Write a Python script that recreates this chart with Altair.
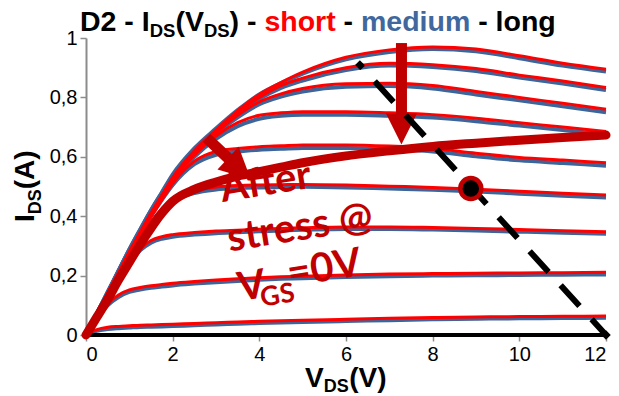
import altair as alt
import pandas as pd

# Drain-source voltage grid (V) shared by the measured curves
vds = [0, 0.25, 0.5, 0.75, 1, 1.25, 1.5, 1.75, 2, 2.5, 3, 3.5, 4, 4.5, 5, 6, 7, 8, 9, 10, 11, 12]

# "short" device, one list of IDS (A) per gate step, highest VGS first
short_1 = [0, .07, .14, .21, .28, .345, .41, .47, .53, .62, .69, .755, .81, .85, .885, .935, .96, .97, .963, .94, .915, .895]
short_2 = [0, .07, .14, .21, .28, .345, .41, .47, .528, .617, .687, .75, .80, .84, .865, .90, .915, .91, .897, .875, .855, .833]
short_3 = [0, .07, .14, .21, .278, .343, .407, .467, .525, .613, .68, .74, .785, .812, .83, .846, .848, .84, .82, .80, .78, .76]
short_4 = [0, .07, .139, .208, .276, .34, .403, .462, .52, .605, .67, .715, .74, .748, .752, .752, .748, .742, .73, .715, .70, .685]
short_5 = [0, .069, .137, .205, .272, .335, .397, .455, .51, .585, .618, .628, .634, .637, .64, .64, .636, .628, .612, .598, .589, .58]
short_6 = [0, .068, .135, .2, .265, .325, .38, .425, .458, .487, .498, .503, .505, .506, .507, .505, .501, .497, .491, .484, .477, .471]
short_7 = [0, .065, .128, .19, .245, .29, .318, .331, .338, .345, .35, .353, .356, .359, .361, .364, .364, .362, .359, .355, .351, .348]
short_8 = [0, .06, .105, .135, .152, .16, .166, .17, .174, .18, .185, .189, .193, .196, .198, .202, .205, .207, .208, .209, .21, .211]
short_9 = [0, .018, .026, .029, .031, .033, .034, .035, .036, .039, .041, .044, .046, .048, .05, .053, .056, .059, .061, .062, .063, .064]

# "medium" device, same gate steps
medium_1 = [0, .072, .144, .216, .288, .355, .42, .48, .54, .628, .695, .757, .81, .848, .88, .928, .953, .963, .955, .932, .907, .887]
medium_2 = [0, .072, .144, .216, .287, .354, .419, .478, .535, .622, .69, .748, .795, .832, .857, .892, .907, .902, .889, .867, .847, .825]
medium_3 = [0, .072, .143, .215, .285, .351, .415, .474, .53, .615, .678, .733, .777, .803, .82, .836, .838, .83, .81, .79, .77, .75]
medium_4 = [0, .071, .142, .212, .282, .347, .409, .466, .52, .6, .66, .703, .728, .738, .742, .742, .738, .732, .72, .705, .69, .675]
medium_5 = [0, .071, .14, .209, .277, .34, .4, .455, .505, .575, .607, .618, .624, .627, .63, .63, .626, .618, .602, .588, .579, .57]
medium_6 = [0, .07, .138, .204, .268, .326, .378, .42, .45, .478, .49, .495, .497, .498, .499, .497, .493, .489, .483, .476, .469, .463]
medium_7 = [0, .067, .13, .19, .243, .285, .311, .324, .331, .338, .343, .346, .349, .352, .354, .357, .357, .355, .352, .348, .344, .341]
medium_8 = [0, .058, .1, .128, .145, .153, .159, .163, .167, .173, .178, .182, .186, .189, .191, .195, .198, .2, .201, .202, .203, .204]
medium_9 = [0, .014, .02, .023, .025, .027, .028, .029, .03, .033, .035, .038, .04, .042, .044, .047, .05, .053, .055, .056, .057, .058]

# "long" device: no current
long_vds = [0, 12]
long_ids = [0, 0]

# Curve after stress at VGS = 0 V
stress_ids = [0, .06, .12, .185, .245, .305, .36, .41, .45, .49, .515, .535, .55, .565, .58, .603, .62, .635, .646, .656, .665, .673]

# Load line and operating point
load_vds = [6.32, 12]
load_ids = [0.909, 0]
op_vds = [8.88]
op_ids = [0.493]

# Arrows: shaft (start, end) and head centre
drop_shaft_v = [7.28, 7.28]
drop_shaft_i = [0.983, 0.70]
drop_head = (7.28, 0.694)
knee_shaft_v = [2.785, 3.45]
knee_shaft_i = [0.663, 0.572]
knee_head = (3.54, 0.56)

# Annotation text
note_text = ["After", "stress @", "V", "GS", "=0V"]
note_v = [4.15, 4.94, 3.83, 4.42, 5.5]
note_i = [0.512, 0.36, 0.162, 0.131, 0.222]

RED = "#FF0000"
BLUE = "#3D6599"
DARK = "#C00000"
GREY = "#8C8C8C"
FONT = "Liberation Sans"

short_curves = [short_1, short_2, short_3, short_4, short_5, short_6, short_7, short_8, short_9]
medium_curves = [medium_1, medium_2, medium_3, medium_4, medium_5, medium_6, medium_7, medium_8, medium_9]


def family(curves):
    rows = []
    for k, ids in enumerate(curves):
        for v, i in zip(vds, ids):
            rows.append({"V": v, "I": i, "curve": k})
    return pd.DataFrame(rows)


x_enc = alt.X("V:Q", scale=alt.Scale(domain=[0, 12], nice=False, zero=False),
              axis=alt.Axis(values=[0, 2, 4, 6, 8, 10, 12], title=None, grid=False,
                            domainColor=GREY, domainWidth=2, tickColor=GREY, tickWidth=1.5,
                            tickSize=6, labelFont=FONT, labelFontSize=20, labelColor="black",
                            labelPadding=3))
y_enc = alt.Y("I:Q", scale=alt.Scale(domain=[0, 1], nice=False),
              axis=alt.Axis(values=[0, 0.2, 0.4, 0.6, 0.8, 1], title=None, grid=False,
                            domainColor=GREY, domainWidth=2, tickColor=GREY, tickWidth=1.5,
                            tickSize=6, labelFont=FONT, labelFontSize=20, labelColor="black",
                            labelPadding=3,
                            labelExpr="replace(format(datum.value, '~g'), '.', ',')"))
xv = alt.X("V:Q")
yv = alt.Y("I:Q")

medium_layer = alt.Chart(family(medium_curves)).mark_line(
    color=BLUE, strokeWidth=4, interpolate="monotone"
).encode(x=x_enc, y=y_enc, detail="curve:N")

short_layer = alt.Chart(family(short_curves)).mark_line(
    color=RED, strokeWidth=3, interpolate="monotone"
).encode(x=xv, y=yv, detail="curve:N")

long_layer = alt.Chart(pd.DataFrame({"V": long_vds, "I": long_ids})).mark_line(
    color="black", strokeWidth=4
).encode(x=xv, y=yv)

stress_layer = alt.Chart(pd.DataFrame({"V": vds, "I": stress_ids})).mark_line(
    color=DARK, strokeWidth=9, interpolate="monotone", strokeCap="round"
).encode(x=xv, y=yv)

HEAD = "M-1,-1L1,-1L0,1Z"


def arrow(sv, si, head, angle):
    shaft = alt.Chart(pd.DataFrame({"V": sv, "I": si})).mark_line(
        color=DARK, strokeWidth=11, strokeCap="butt"
    ).encode(x=xv, y=yv)
    tip = alt.Chart(pd.DataFrame({"V": [head[0]], "I": [head[1]]})).mark_point(
        shape=HEAD, filled=True, color=DARK, opacity=1, size=961, angle=angle, strokeWidth=0
    ).encode(x=xv, y=yv)
    return shaft + tip


load_df = pd.DataFrame({"V": load_vds, "I": load_ids})
load_layer = alt.Chart(load_df).mark_line(
    color="black", strokeWidth=6, strokeDash=[28, 18], strokeDashOffset=24, strokeCap="butt"
).encode(x=xv, y=yv)
load_ends = alt.Chart(load_df).mark_point(
    shape="diamond", filled=True, color="black", opacity=1, size=90
).encode(x=xv, y=yv)

op_layer = alt.Chart(pd.DataFrame({"V": op_vds, "I": op_ids})).mark_point(
    shape="circle", filled=True, fill="black", stroke=DARK, strokeWidth=4.5, opacity=1, size=441
).encode(x=xv, y=yv)

note_df = pd.DataFrame({"V": note_v, "I": note_i, "t": note_text,
                        "fs": [40, 40, 40, 27, 40]})
note_layer = alt.Chart(note_df).mark_text(
    font="Lato", fontWeight="bold", color=DARK, angle=351, baseline="middle", align="center"
).encode(x=xv, y=yv, text="t:N", size=alt.Size("fs:Q", scale=None, legend=None))


def label(text, x, y, size, color="black", angle=0):
    return alt.Chart(pd.DataFrame({"k": [0]})).mark_text(
        text=text, font=FONT, fontWeight="bold", fontSize=size, color=color,
        align="left", baseline="alphabetic", angle=angle
    ).encode(x=alt.value(x), y=alt.value(y))


OX, OY = 86, 38  # plot origin on the page
title_parts = [
    ("D2 - I", 80, 31, 28.5, "black"),
    ("DS", 149.7, 37, 18.5, "black"),
    ("(V", 175.4, 31, 28.5, "black"),
    ("DS", 203.9, 37, 18.5, "black"),
    (") -", 229.6, 31, 28.5, "black"),
    ("short", 264.4, 31, 28.5, RED),
    ("-", 343.6, 31, 28.5, "black"),
    ("medium", 361, 31, 28.5, "#40689E"),
    ("- long", 478.2, 31, 28.5, "black"),
    ("V", 305, 387, 28, "black"),
    ("DS", 323.7, 392, 18, "black"),
    ("(V)", 349.2, 387, 28, "black"),
]
labels = [label(t, x - OX, y - OY, s, c) for t, x, y, s, c in title_parts]
labels += [
    label("I", 34 - OX, 222 - OY, 28, angle=270),
    label("DS", 41 - OX, 214.2 - OY, 18, angle=270),
    label("(A)", 34 - OX, 189.2 - OY, 28, angle=270),
]

chart = alt.layer(
    medium_layer, short_layer, long_layer, stress_layer,
    arrow(drop_shaft_v, drop_shaft_i, drop_head, 0),
    arrow(knee_shaft_v, knee_shaft_i, knee_head, 313),
    load_layer, load_ends, op_layer, note_layer, *labels
).properties(
    width=520, height=297,
    autosize=alt.AutoSizeParams(type="none"),
    padding={"left": OX, "top": OY, "right": 13, "bottom": 61},
).configure_view(stroke=None)

chart.save("out.html", embed_options={"renderer": "svg", "actions": False})
